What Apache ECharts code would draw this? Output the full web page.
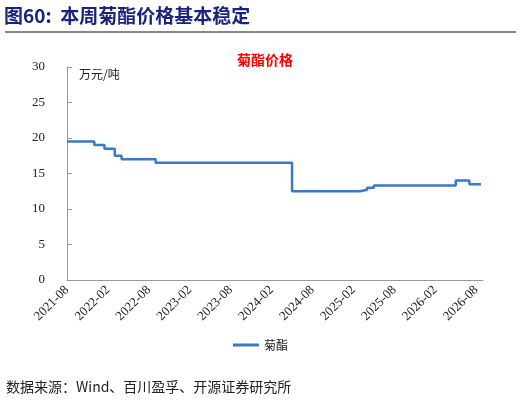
<!DOCTYPE html><html><head><meta charset="utf-8">
<script src="https://cdn.jsdelivr.net/npm/echarts@6/dist/echarts.min.js"></script>
<style>body{margin:0;background:#fff}#c{width:521px;height:406px}</style></head><body><div id="c"></div>
<script>
const changeDates=['2021-08','2021-12','2022-01.5','2022-03','2022-04','2022-09','2024-05','2025-03','2025-04','2025-05','2026-05','2026-07','2026-08.7'];
const prices=[19.5,19,18.5,17.5,17,16.5,12.5,12.7,13,13.3,14,13.5,13.5];
const yTicks=[0,5,10,15,20,25,30];
function idx(s){const [y,m]=s.split('-');return (Number(y)-2021)*12+Number(m)-8;}
function lab(i){const t=2021*12+7+i;const y=Math.floor(t/12),m=t%12+1;return y+'-'+String(m).padStart(2,'0');}
const data=changeDates.map((d,i)=>[idx(d),prices[i]]);
const serif='"Liberation Serif","Noto Sans CJK SC",serif';
const c=echarts.init(document.getElementById('c'));
c.setOption({
 animation:false,
 title:{text:'菊酯价格',left:260,top:48,textAlign:'center',textStyle:{color:'#ff0000',fontSize:14,fontWeight:'bold',fontFamily:'"Noto Sans CJK SC"'}},
 graphic:[
  {type:'text',left:4,top:6,style:{text:'图60:  本周菊酯价格基本稳定',fill:'#1a237e',font:'bold 19px "Noto Sans CJK SC"'}},
  {type:'rect',shape:{x:5,y:31,width:511,height:2},style:{fill:'#888'}},
  {type:'text',left:79,top:68,style:{text:'万元/吨',fill:'#222',font:'12px "Noto Sans CJK SC"'}},
  {type:'text',left:6,top:380,style:{text:'数据来源：Wind、百川盈孚、开源证券研究所',fill:'#222',font:'14px "Noto Sans CJK SC"'}}
 ],
 grid:{left:67,right:38,top:67,bottom:126},
 legend:{bottom:50,left:'center',itemWidth:26,itemHeight:3,icon:'rect',textStyle:{fontSize:12,fontFamily:'"Noto Sans CJK SC"',color:'#222'},data:['菊酯']},
 xAxis:{type:'value',min:0,max:61,interval:6,splitLine:{show:false},
  axisLine:{lineStyle:{color:'#999'}},axisTick:{show:false},
  axisLabel:{rotate:45,fontFamily:serif,fontSize:13,color:'#222',formatter:v=>v%6===0&&v<=60?lab(v):''}},
 yAxis:{type:'value',min:0,max:30,interval:5,splitLine:{show:false},
  axisLine:{show:true,lineStyle:{color:'#999'}},axisTick:{show:true,inside:true,lineStyle:{color:'#999'}},
  axisLabel:{fontFamily:serif,fontSize:13,color:'#222',margin:22}},
 series:[{name:'菊酯',type:'line',step:'end',data:data,showSymbol:false,lineStyle:{color:'#3a78c9',width:2.5},itemStyle:{color:'#3a78c9'}}]
});
</script></body></html>
